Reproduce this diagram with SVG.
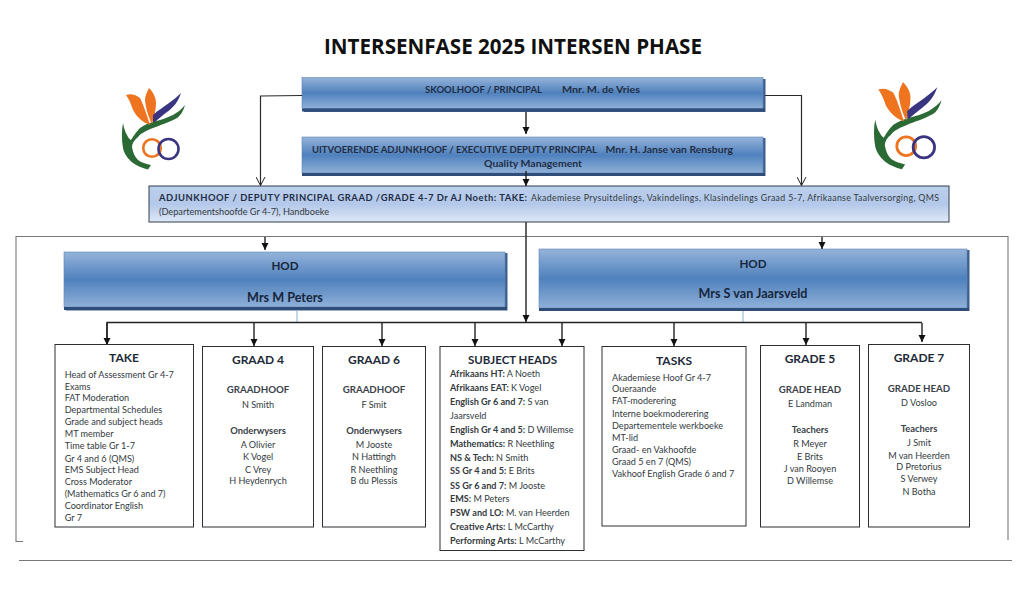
<svg xmlns="http://www.w3.org/2000/svg" xmlns:xlink="http://www.w3.org/1999/xlink" width="1024" height="597" viewBox="0 0 1024 597">
<style>
text{font-family:Lato,"Open Sans","Liberation Sans",sans-serif;fill:#333a40;font-size:9.1px}
.c{text-anchor:middle}
.b{font-weight:700}
.t{font-size:22px;font-weight:700;fill:#111;font-family:"Open Sans","Liberation Sans",sans-serif}
.h{font-size:12px;font-weight:700;fill:#1e2a38}
.s{font-size:9.7px;font-weight:700;fill:#3a4248}
.o{font-size:9.4px;font-weight:700;fill:#3a4248}
.d{font-size:9.4px;font-weight:700;fill:#1f2d44}
.hd{font-size:11.6px;font-weight:700;fill:#16263c}
.hn{font-size:12.6px;font-weight:700;fill:#16263c}
.box{fill:#fff;stroke:#2b2f33;stroke-width:1}
.blue{fill:url(#bg);stroke:#5f86b6;stroke-width:.6}
.band{fill:#2e4d78}
.shade{fill:#3d5f8e}
.line{fill:none;stroke:#2a2a2a;stroke-width:1.2}
.thick{fill:none;stroke:#222;stroke-width:1.4}
.frame{fill:none;stroke:#777;stroke-width:1.1}
.thin{fill:none;stroke:#8fb0d6;stroke-width:1}
</style>
<defs>
<linearGradient id="bg" x1="0" y1="0" x2="0" y2="1"><stop offset="0" stop-color="#95b3da"/><stop offset=".5" stop-color="#4f81bd"/><stop offset="1" stop-color="#8fb0d8"/></linearGradient>
<linearGradient id="dg" x1="0" y1="0" x2="0" y2="1"><stop offset="0" stop-color="#bccfeb"/><stop offset=".5" stop-color="#b3c8ea"/><stop offset="1" stop-color="#dfe8f6"/></linearGradient>
<marker id="f" markerWidth="8" markerHeight="8" refX="7" refY="3.5" orient="auto" markerUnits="userSpaceOnUse"><path d="M0,0L7,3.5L0,7Z" fill="#111"/></marker>
<marker id="a" markerWidth="10" markerHeight="10" refX="9" refY="5" orient="auto" markerUnits="userSpaceOnUse"><path d="M0.5,0.5L9,5L0.5,9.5" fill="none" stroke="#222" stroke-width="1"/></marker>
<g id="logoart">
<path fill="#2c6a35" d="M185,105C183,112 180,116 177,118C168,123 160,125 153,128C146,131 141,133 138,137C134,140 132,144 132,147C133,153 135,157 138,160C142,163 147,164 151,165L148,169.500C142,168 137,166 133,163C127,158 124,153 123,148C121.500,140 121.500,131 123,123C124,128 125,132 127,135C128,137 129,139 131,140C134,135 137,131 140,128C144,125 149,123 153,122C160,120 167,118 173,115C178,112 182,109 185,105Z"/>
<path fill="#ee7420" d="M126,95C131,93 136,95 140,98C143,104 146,112 150,125C142,122 137,117 133,110C131,104 129,99 126,95ZM149,88C153,92 156,97 156,103C156,110 154,117 152,124C149,118 146,110 145,100C145,96 147,92 149,88Z"/>
<path fill="#3a3580" d="M181,93C178,102 173,108 167,112C162,116 158,119 155,122L153,122L153,115C158,110 164,107 169,103C173,100 177,97 181,93Z"/>
<circle cx="152" cy="148" r="8.800" fill="none" stroke="#ee7420" stroke-width="2.600"/>
<circle cx="168.500" cy="149" r="10" fill="none" stroke="#3a3580" stroke-width="2.600"/>
</g>
</defs>
<rect width="1024" height="597" fill="#fff"/>
<text id="title" class="t" x="513" y="54" text-anchor="middle" textLength="378" lengthAdjust="spacingAndGlyphs">INTERSENFASE 2025 INTERSEN PHASE</text>
<g id="logo-left"><use href="#logoart"/></g>
<g id="logo-right"><use href="#logoart" transform="translate(903,82) scale(1.07) translate(-149,-88)"/></g>
<g id="frame">
<path class="frame" d="M23,541.500H16V236.500H1008V540"/>
<path class="frame" stroke="#444" d="M19,560.500H1012"/>
</g>
<g id="n-principal">
<rect class="shade" x="304" y="79" width="461.500" height="33"/>
<rect class="blue" x="302" y="77.500" width="461" height="31"/>
<rect class="band" x="302" y="108.500" width="463" height="3"/>
<text class="d" x="425" y="93" textLength="117" lengthAdjust="spacingAndGlyphs">SKOOLHOOF / PRINCIPAL</text>
<text class="d" x="562" y="93" textLength="78" lengthAdjust="spacingAndGlyphs">Mnr. M. de Vries</text>
</g>
<g id="n-executive">
<rect class="shade" x="304" y="138" width="461.500" height="38"/>
<rect class="blue" x="302" y="137" width="461" height="36"/>
<rect class="band" x="302" y="173" width="463" height="3"/>
<text class="d" x="312" y="153" textLength="285" lengthAdjust="spacingAndGlyphs">UITVOERENDE ADJUNKHOOF / EXECUTIVE DEPUTY PRINCIPAL</text>
<text class="d" x="605.500" y="153" textLength="127.500" lengthAdjust="spacingAndGlyphs">Mnr. H. Janse van Rensburg</text>
<text class="d" x="484" y="167" textLength="98" lengthAdjust="spacingAndGlyphs">Quality Management</text>
</g>
<g id="n-deputy">
<rect x="149" y="186" width="800" height="36" fill="url(#dg)" stroke="#2f4050" stroke-width="1"/>
<text class="d" x="159" y="201" textLength="368">ADJUNKHOOF / DEPUTY PRINCIPAL GRAAD /GRADE 4-7 Dr AJ Noeth: TAKE:</text>
<text x="531" y="201" textLength="408" style="font-size:8.8px">Akademiese Prysuitdelings, Vakindelings, Klasindelings Graad 5-7, Afrikaanse Taalversorging, QMS</text>
<text x="159" y="215" textLength="170" lengthAdjust="spacingAndGlyphs" style="font-size:8.8px">(Departementshoofde Gr 4-7), Handboeke</text>
</g>
<g id="n-hod-left">
<rect class="shade" x="66" y="253" width="441.500" height="57.500"/>
<rect class="blue" x="64" y="252" width="441" height="55"/>
<rect class="band" x="64" y="307" width="443" height="3"/>
<text class="hd c" x="285" y="270">HOD</text>
<text class="hn c" x="285" y="301.500">Mrs M Peters</text>
</g>
<g id="n-hod-right">
<rect class="shade" x="541" y="250" width="428.500" height="61"/>
<rect class="blue" x="539" y="249" width="428" height="59"/>
<rect class="band" x="539" y="308" width="430" height="3"/>
<text class="hd c" x="753" y="268">HOD</text>
<text class="hn c" x="753" y="298">Mrs S van Jaarsveld</text>
</g>
<g id="connectors">
<path class="line" d="M302,95.500L260.500,96V185.500" marker-end="url(#a)"/>
<path class="line" d="M765,95.500H801.500V185.500" marker-end="url(#a)"/>
<path class="thick" d="M526,112V134" marker-end="url(#f)"/>
<path class="thick" d="M526,171V186" marker-end="url(#f)"/>
<path class="thick" d="M526,222V322" marker-end="url(#f)"/>
<path class="thick" d="M265,237V250" marker-end="url(#f)"/>
<path class="thick" d="M822,237V249" marker-end="url(#f)"/>
<path class="thin" d="M297,310.500V322M743,311V322"/>
<path class="thick" d="M107,344.500V322.500H922"/>
<path class="thick" d="M107,323V345" marker-end="url(#f)"/>
<path class="thick" d="M254,323V346" marker-end="url(#f)"/>
<path class="thick" d="M382,323V346" marker-end="url(#f)"/>
<path class="thick" d="M475,323V346" marker-end="url(#f)"/>
<path class="thick" d="M562,323V346" marker-end="url(#f)"/>
<path class="thick" d="M674,323V346" marker-end="url(#f)"/>
<path class="thick" d="M806,323V345" marker-end="url(#f)"/>
<path class="thick" d="M922,323V342" marker-end="url(#f)"/>
</g>
<g id="n-take">
<rect class="box" x="55" y="344.500" width="138.500" height="182.500"/>
<text class="h c" x="124" y="362">TAKE</text>
<text x="64.700" y="377.700">Head of Assessment Gr 4-7</text>
<text x="64.700" y="389.500">Exams</text>
<text x="64.700" y="401">FAT Moderation</text>
<text x="64.700" y="413">Departmental Schedules</text>
<text x="64.700" y="425">Grade and subject heads</text>
<text x="64.700" y="437">MT member</text>
<text x="64.700" y="449">Time table Gr 1-7</text>
<text x="64.700" y="461.500">Gr 4 and 6 (QMS)</text>
<text x="64.700" y="473">EMS Subject Head</text>
<text x="64.700" y="485">Cross Moderator</text>
<text x="64.700" y="497">(Mathematics Gr 6 and 7)</text>
<text x="64.700" y="509">Coordinator English</text>
<text x="64.700" y="521">Gr 7</text>
</g>
<g id="n-graad4" class="c">
<rect class="box" x="202.500" y="346.500" width="111" height="180.500"/>
<text class="h c" x="258" y="364">GRAAD 4</text>
<text class="s c" x="258" y="393">GRAADHOOF</text>
<text class="c" x="258" y="408">N Smith</text>
<text class="o c" x="258" y="434">Onderwysers</text>
<text class="c" x="258" y="448">A Olivier</text>
<text class="c" x="258" y="460">K Vogel</text>
<text class="c" x="258" y="472.700">C Vrey</text>
<text class="c" x="258" y="484">H Heydenrych</text>
</g>
<g id="n-graad6">
<rect class="box" x="322.500" y="346.500" width="103" height="180.500"/>
<text class="h c" x="374" y="364">GRAAD 6</text>
<text class="s c" x="374" y="393">GRAADHOOF</text>
<text class="c" x="374" y="408">F Smit</text>
<text class="o c" x="374" y="434">Onderwysers</text>
<text class="c" x="374" y="448">M Jooste</text>
<text class="c" x="374" y="460">N Hattingh</text>
<text class="c" x="374" y="472.700">R Neethling</text>
<text class="c" x="374" y="484">B du Plessis</text>
</g>
<g id="n-subject">
<rect class="box" x="440" y="346.500" width="144" height="204"/>
<text class="h c" x="512.500" y="364" textLength="89" lengthAdjust="spacingAndGlyphs">SUBJECT HEADS</text>
<text x="450" y="376.700"><tspan class="b">Afrikaans HT:</tspan> A Noeth</text>
<text x="450" y="390.700"><tspan class="b">Afrikaans EAT:</tspan> K Vogel</text>
<text x="450" y="405"><tspan class="b">English Gr 6 and 7:</tspan> S van</text>
<text x="450" y="418.700">Jaarsveld</text>
<text x="450" y="433"><tspan class="b">English Gr 4 and 5:</tspan> D Willemse</text>
<text x="450" y="446.700"><tspan class="b">Mathematics:</tspan> R Neethling</text>
<text x="450" y="460.700"><tspan class="b">NS &amp; Tech:</tspan> N Smith</text>
<text x="450" y="474.300"><tspan class="b">SS Gr 4 and 5:</tspan> E Brits</text>
<text x="450" y="488.700"><tspan class="b">SS Gr 6 and 7:</tspan> M Jooste</text>
<text x="450" y="502"><tspan class="b">EMS:</tspan> M Peters</text>
<text x="450" y="516"><tspan class="b">PSW and LO:</tspan> M. van Heerden</text>
<text x="450" y="530"><tspan class="b">Creative Arts:</tspan> L McCarthy</text>
<text x="450" y="544"><tspan class="b">Performing Arts:</tspan> L McCarthy</text>
</g>
<g id="n-tasks">
<rect class="box" x="602" y="346.500" width="144" height="179.500"/>
<text class="h c" x="674" y="365">TASKS</text>
<text x="612" y="380.700">Akademiese Hoof Gr 4-7</text>
<text x="612" y="392.300">Oueraande</text>
<text x="612" y="404.300">FAT-moderering</text>
<text x="612" y="416.700">Interne boekmoderering</text>
<text x="612" y="428.700">Departementele werkboeke</text>
<text x="612" y="440.700">MT-lid</text>
<text x="612" y="453.300">Graad- en Vakhoofde</text>
<text x="612" y="465">Graad 5 en 7 (QMS)</text>
<text x="612" y="476.700">Vakhoof English Grade 6 and 7</text>
</g>
<g id="n-grade5">
<rect class="box" x="760.500" y="345.500" width="99" height="181.500"/>
<text class="h c" x="810" y="363.300">GRADE 5</text>
<text class="s c" x="810" y="392.700">GRADE HEAD</text>
<text class="c" x="810" y="407.300">E Landman</text>
<text class="o c" x="810" y="433.300">Teachers</text>
<text class="c" x="810" y="447.300">R Meyer</text>
<text class="c" x="810" y="460">E Brits</text>
<text class="c" x="810" y="471.700">J van Rooyen</text>
<text class="c" x="810" y="484">D Willemse</text>
</g>
<g id="n-grade7">
<rect class="box" x="868.500" y="344.500" width="101" height="182.500"/>
<text class="h c" x="919" y="361.700">GRADE 7</text>
<text class="s c" x="919" y="391.700">GRADE HEAD</text>
<text class="c" x="919" y="406">D Vosloo</text>
<text class="o c" x="919" y="432.300">Teachers</text>
<text class="c" x="919" y="445.700">J Smit</text>
<text class="c" x="919" y="458.700">M van Heerden</text>
<text class="c" x="919" y="470.300">D Pretorius</text>
<text class="c" x="919" y="482.300">S Verwey</text>
<text class="c" x="919" y="495">N Botha</text>
</g>
</svg>
